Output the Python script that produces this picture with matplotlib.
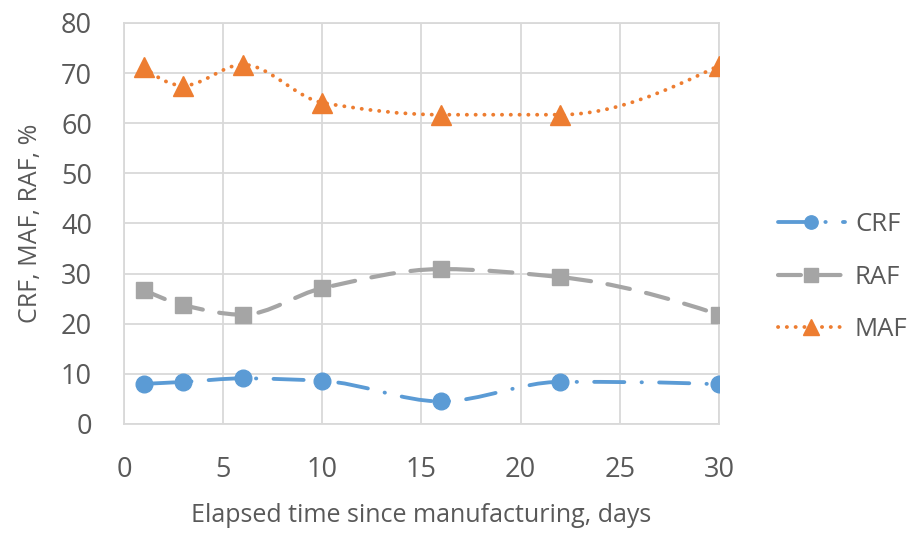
import matplotlib
matplotlib.use("Agg")
import matplotlib.pyplot as plt
from matplotlib.path import Path
from matplotlib.patches import PathPatch
from matplotlib.lines import Line2D

days = [1, 3, 6, 10, 16, 22, 30]
crf = [8.0, 8.4, 9.1, 8.6, 4.5, 8.4, 7.9]
raf = [26.8, 23.7, 21.8, 27.1, 30.9, 29.3, 21.8]
maf = [71.2, 67.5, 71.7, 64.1, 61.7, 61.7, 71.5]

x_ticks = [0, 5, 10, 15, 20, 25, 30]
y_ticks = [0, 10, 20, 30, 40, 50, 60, 70, 80]

plt.rcParams['font.family'] = ['Open Sans', 'DejaVu Sans']
TXT = '#595959'
GRID = '#D9D9D9'

fig = plt.figure(figsize=(9.17, 5.36), dpi=100)
ax = fig.add_axes([0.1352, 0.2090, 0.6489, 0.7481])


def tangents(xs, ys):
    n = len(xs)
    h = [xs[i + 1] - xs[i] for i in range(n - 1)]
    d = [(ys[i + 1] - ys[i]) / h[i] for i in range(n - 1)]
    m = [0.0] * n
    for k in range(1, n - 1):
        if d[k - 1] * d[k] <= 0:
            m[k] = 0.0
        else:
            w1 = 2 * h[k] + h[k - 1]
            w2 = h[k] + 2 * h[k - 1]
            m[k] = (w1 + w2) / (w1 / d[k - 1] + w2 / d[k])

    def end(h0, h1, d0, d1):
        v = ((2 * h0 + h1) * d0 - h0 * d1) / (h0 + h1)
        if v * d0 <= 0:
            return 0.0
        if d0 * d1 < 0 and abs(v) > 3 * abs(d0):
            return 3 * d0
        return v
    m[0] = end(h[0], h[1], d[0], d[1])
    m[-1] = end(h[-1], h[-2], d[-1], d[-2])
    return m


def smooth_path(xs, ys):
    m = tangents(xs, ys)
    verts = [(xs[0], ys[0])]
    codes = [Path.MOVETO]
    for i in range(len(xs) - 1):
        dx = (xs[i + 1] - xs[i]) / 3.0
        verts += [(xs[i] + dx, ys[i] + m[i] * dx),
                  (xs[i + 1] - dx, ys[i + 1] - m[i + 1] * dx),
                  (xs[i + 1], ys[i + 1])]
        codes += [Path.CURVE4] * 3
    return Path(verts, codes)


series = [
    ('CRF', crf, '#5B9BD5', 'o', 12, (0, (7.9, 4.5, 0.1, 4.5)), 2.75),
    ('RAF', raf, '#A5A5A5', 's', 12, (0, (5.5, 4.0)), 3.0),
    ('MAF', maf, '#ED7D31', '^', 14, (0, (0.05, 2.25)), 2.75),
]

handles = []
for name, ys, col, mk, ms, ls, lw in series:
    patch = PathPatch(smooth_path(days, ys), facecolor='none', edgecolor=col,
                      linewidth=lw, linestyle=ls, capstyle='round', zorder=3)
    ax.add_patch(patch)
    ax.plot(days, ys, linestyle='none', marker=mk, markersize=ms,
            color=col, markeredgecolor=col, zorder=4)
    h = Line2D([0], [0], color=col, linewidth=lw, linestyle=ls, marker=mk,
               markersize=ms * 0.8, dash_capstyle='round', solid_capstyle='round')
    handles.append(h)

ax.set_xlim(0, 30)
ax.set_ylim(0, 80)
ax.set_xticks(x_ticks)
ax.set_yticks(y_ticks)
ax.grid(True, color=GRID, linewidth=1.3, zorder=0)
ax.set_axisbelow(True)
for s in ax.spines.values():
    s.set_color(GRID)
    s.set_linewidth(1.3)
ax.tick_params(axis='both', length=0, labelsize=19.5, labelcolor=TXT)
ax.tick_params(axis='x', pad=23)
ax.tick_params(axis='y', pad=23)
ax.set_xlabel('Elapsed time since manufacturing, days', fontsize=18, color=TXT, labelpad=13.5)
ax.set_ylabel('CRF, MAF, RAF, %', fontsize=18, color=TXT, labelpad=13)

fig.legend(handles, ['CRF', 'RAF', 'MAF'], loc='center left',
           bbox_to_anchor=(0.823, 0.483), frameon=False, fontsize=18.5,
           labelcolor=TXT, handlelength=2.6, labelspacing=1.08, handletextpad=0.4)

fig.savefig('out.png', dpi=100)
